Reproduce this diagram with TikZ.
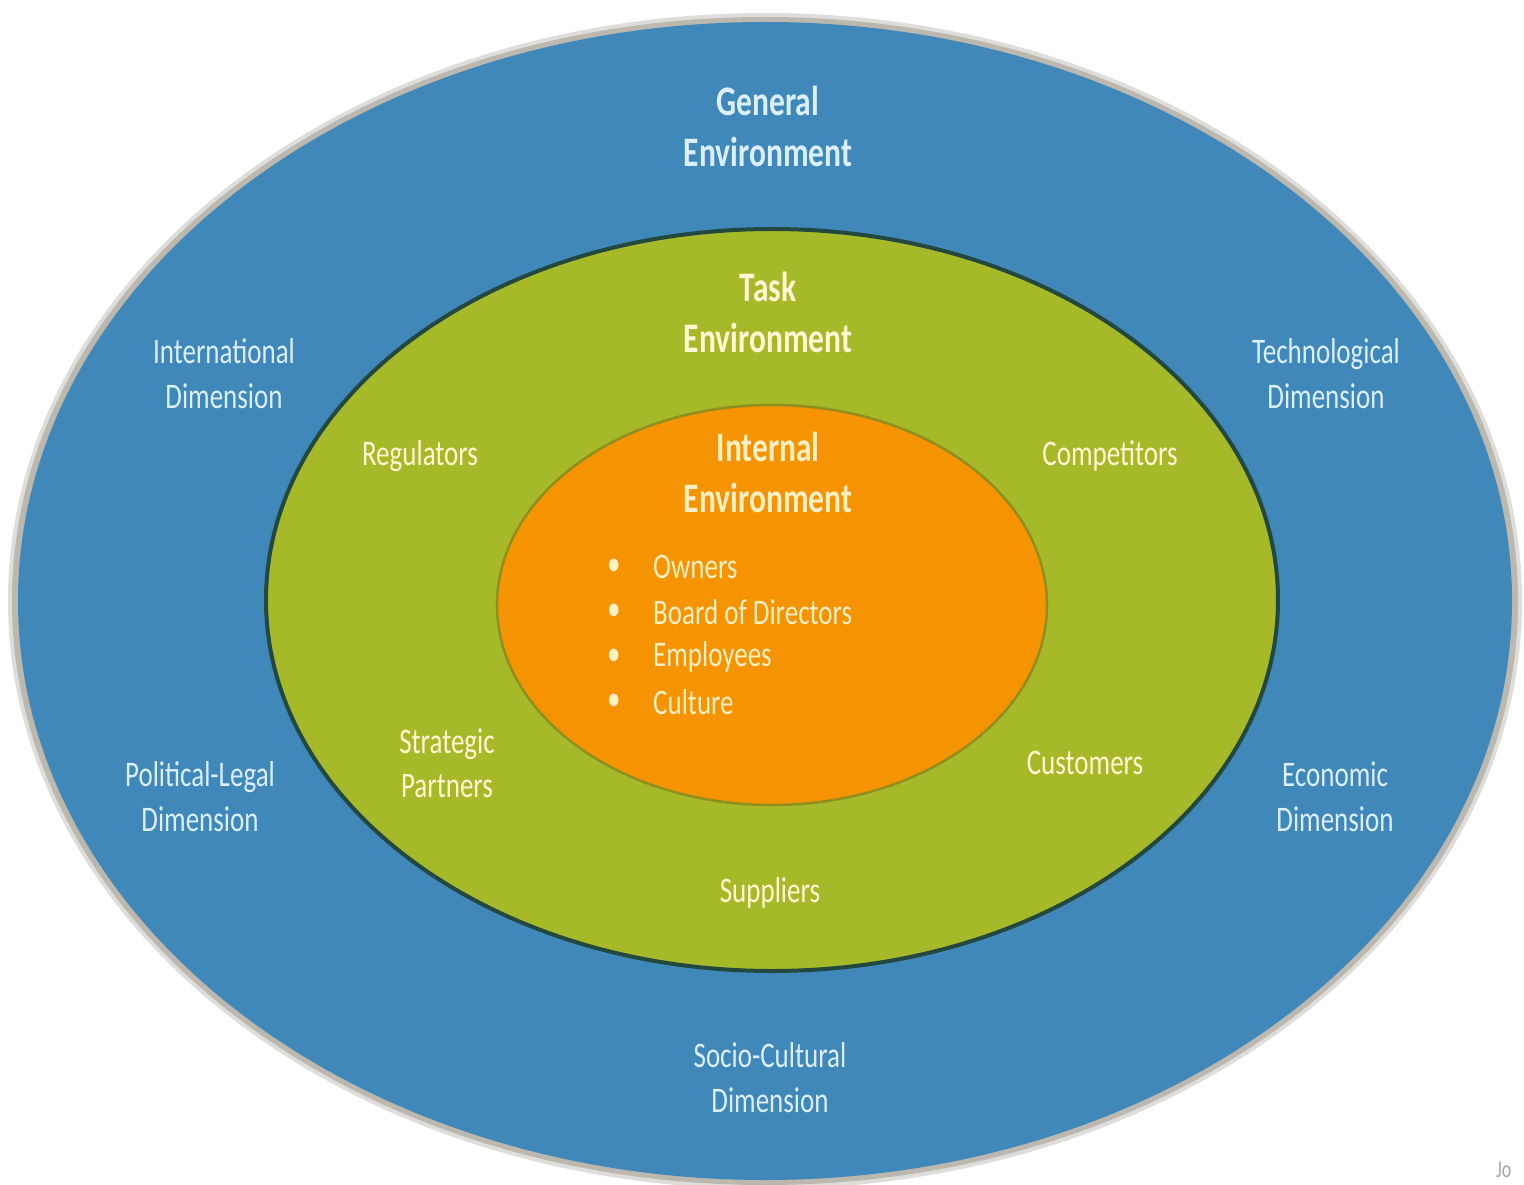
\documentclass[tikz,border=0pt]{standalone}
\usepackage{fontspec}
\setmainfont{Carlito}[FakeStretch=0.75]
\usetikzlibrary{shapes.geometric}
\definecolor{genblue}{HTML}{3F88B9}
\definecolor{taskgreen}{HTML}{A6B929}
\definecolor{intorange}{HTML}{F59300}
\definecolor{bluetext}{HTML}{DCEFFF}
\definecolor{greentext}{HTML}{FFF6D2}
\definecolor{orangetext}{HTML}{FFEFC4}
\definecolor{rimgray}{HTML}{A59E94}
\definecolor{greenrim}{HTML}{23483F}
\definecolor{orangerim}{HTML}{8F8E1E}
\tikzset{
  ring/.style={ellipse, inner sep=0pt},
  heading/.style={font=\bfseries\fontsize{42}{51}\selectfont, align=center, inner sep=0pt},
  blabel/.style={font=\fontsize{36}{45}\selectfont, align=center, text=bluetext, inner sep=0pt},
  glabel/.style={font=\fontsize{36}{44}\selectfont, align=center, text=greentext, inner sep=0pt},
  olabel/.style={font=\fontsize{36}{45}\selectfont, text=orangetext, inner sep=0pt, anchor=west},
}
\begin{document}
\begin{tikzpicture}[x=1pt,y=-1pt]
\useasboundingbox[fill=white] (0,0) rectangle (1524,1185);
% outer general environment
\node[ring, fill=rimgray, opacity=0.35, minimum width=1514, minimum height=1176] (outerhalo) at (765,601) {};
\node[ring, fill=rimgray, opacity=0.6, minimum width=1506, minimum height=1168] (outershadow) at (765,601) {};
\node[ring, fill=genblue, minimum width=1494, minimum height=1158] (outer) at (765,601) {};
% task environment
\node[ring, fill=taskgreen, draw=greenrim, line width=4pt, minimum width=1012, minimum height=742] (task) at (772,600) {};
% internal environment
\node[ring, fill=intorange, draw=orangerim, line width=2.5pt, minimum width=550, minimum height=400] (internal) at (772,605) {};

% headings
\node[heading, text=bluetext] (gen) at (768,126) {General\\Environment};
\node[heading, text=greentext] (taskh) at (768,312) {Task\\Environment};
\node[heading, text=orangetext] (inth) at (768,472) {Internal\\Environment};

% internal items
\node[olabel] (b1) at (607,567) {\textbullet};
\node[olabel] (b2) at (607,612) {\textbullet};
\node[olabel] (b3) at (607,657) {\textbullet};
\node[olabel] (b4) at (607,702) {\textbullet};
\node[olabel] (i1) at (653,567) {Owners};
\node[olabel] (i2) at (653,612) {Board of Directors};
\node[olabel] (i3) at (653,657) {Employees};
\node[olabel] (i4) at (653,702) {Culture};

% general dimensions
\node[blabel] (intl) at (224,374) {International\\Dimension};
\node[blabel] (tech) at (1326,374) {Technological\\Dimension};
\node[blabel] (pol) at (200,797) {Political-Legal\\Dimension};
\node[blabel] (econ) at (1335,797) {Economic\\Dimension};
\node[blabel] (socio) at (770,1078) {Socio-Cultural\\Dimension};

% task items
\node[glabel] (reg) at (420,456) {Regulators};
\node[glabel] (comp) at (1110,456) {Competitors};
\node[glabel] (strat) at (447,763) {Strategic\\Partners};
\node[glabel] (cust) at (1085,763) {Customers};
\node[glabel] (supp) at (770,893) {Suppliers};

% cut-off fragment at bottom right
\node[font=\fontsize{24}{26}\selectfont, text=gray!70, anchor=west, inner sep=0pt] (frag) at (1496,1170) {Jo};
\end{tikzpicture}
\end{document}
